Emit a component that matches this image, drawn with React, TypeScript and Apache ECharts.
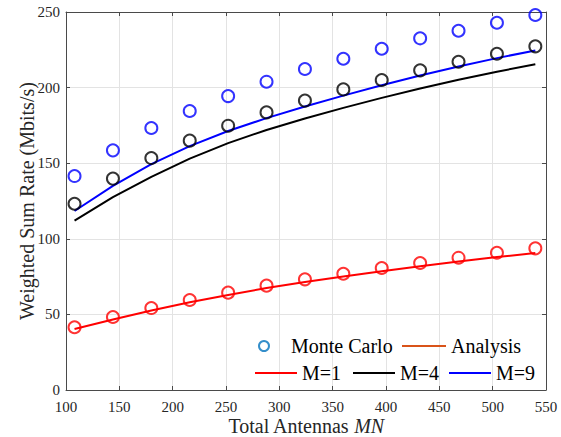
import React, { useEffect, useRef } from "react";
import * as echarts from "echarts";

// Total antennas MN at which both the simulation and the analysis are evaluated
const antennas = [108, 144, 180, 216, 252, 288, 324, 360, 396, 432, 468, 504, 540];

// Monte Carlo results (Mbits/s)
const monteCarloM1 = [41.5, 48.3, 54.2, 59.5, 64.4, 69.0, 73.2, 76.9, 80.7, 84.0, 87.5, 90.8, 93.7];
const monteCarloM4 = [123.2, 139.8, 153.4, 164.9, 174.8, 183.6, 191.4, 198.8, 205.0, 211.4, 217.1, 222.4, 227.3];
const monteCarloM9 = [141.5, 158.5, 173.3, 184.5, 194.4, 203.9, 212.3, 219.1, 225.7, 232.6, 237.6, 242.9, 248.0];

// Analytical results (Mbits/s)
const analysisM1 = [40.3, 46.6, 52.6, 58.0, 62.9, 67.4, 71.4, 75.1, 78.6, 81.9, 85.0, 87.9, 90.6];
const analysisM4 = [112.0, 127.5, 141.0, 153.0, 163.3, 172.0, 179.6, 186.6, 193.2, 199.4, 205.2, 210.5, 215.4];
const analysisM9 = [118.4, 135.0, 149.4, 161.3, 171.3, 179.8, 187.5, 194.7, 201.5, 208.0, 214.0, 219.5, 224.6];

const xTicks = { min: 100, max: 550, interval: 50 };
const yTicks = { min: 0, max: 250, interval: 50 };

const FONT = "Liberation Serif";
const AXIS_COLOR = "#4a4a4a";
const TEXT_COLOR = "#262626";

const pair = (ys: number[]) => antennas.map((x, i) => [x, ys[i]]);

const curves = [
  { name: "M=1", color: "#ff0000", mc: monteCarloM1, an: analysisM1 },
  { name: "M=4", color: "#000000", mc: monteCarloM4, an: analysisM4 },
  { name: "M=9", color: "#0000ff", mc: monteCarloM9, an: analysisM9 },
];

export default function App() {
  const ref = useRef<HTMLDivElement>(null);

  useEffect(() => {
    if (!ref.current) return;
    const chart = echarts.init(ref.current, null, { renderer: "svg" });

    const boxAxis = {
      show: true,
      axisLine: { show: true, onZero: false, lineStyle: { color: AXIS_COLOR, width: 1 } },
      axisTick: { show: true, inside: true, length: 4, lineStyle: { color: AXIS_COLOR } },
      axisLabel: { show: false },
      splitLine: { show: false },
    };

    const legendText = { fontFamily: FONT, fontSize: 20, color: "#000" };
    const legendBase = {
      orient: "horizontal" as const,
      padding: 0,
      itemGap: 0,
      selectedMode: false,
      textStyle: legendText,
    };

    const option: any = {
      animation: false,
      backgroundColor: "#ffffff",
      textStyle: { fontFamily: FONT },
      grid: {
        left: 66,
        right: 15,
        top: 12,
        bottom: 47,
        containLabel: false,
        outerBoundsMode: "none",
      },
      xAxis: [
        {
          type: "value",
          min: xTicks.min,
          max: xTicks.max,
          interval: xTicks.interval,
          position: "bottom",
          axisLine: { show: true, onZero: false, lineStyle: { color: AXIS_COLOR, width: 1 } },
          axisTick: { show: true, inside: true, length: 4, lineStyle: { color: AXIS_COLOR } },
          axisLabel: { fontFamily: FONT, fontSize: 15, color: TEXT_COLOR, margin: 9 },
          splitLine: { show: true, lineStyle: { color: "#e3e3e3", width: 1 } },
          name: "Total Antennas {i|MN}",
          nameLocation: "middle",
          nameGap: 26,
          nameMoveOverlap: false,
          nameTextStyle: {
            fontFamily: FONT,
            fontSize: 20,
            color: TEXT_COLOR,
            rich: { i: { fontFamily: FONT, fontSize: 20, fontStyle: "italic", color: TEXT_COLOR } },
          },
        },
        {
          type: "value",
          min: xTicks.min,
          max: xTicks.max,
          interval: xTicks.interval,
          position: "top",
          ...boxAxis,
        },
      ],
      yAxis: [
        {
          type: "value",
          min: yTicks.min,
          max: yTicks.max,
          interval: yTicks.interval,
          position: "left",
          axisLine: { show: true, onZero: false, lineStyle: { color: AXIS_COLOR, width: 1 } },
          axisTick: { show: true, inside: true, length: 4, lineStyle: { color: AXIS_COLOR } },
          axisLabel: { fontFamily: FONT, fontSize: 15, color: TEXT_COLOR, margin: 6 },
          splitLine: { show: true, lineStyle: { color: "#e3e3e3", width: 1 } },
          name: "Weighted Sum Rate (Mbits/s)",
          nameLocation: "middle",
          nameGap: 29,
          nameMoveOverlap: false,
          nameRotate: 90,
          nameTextStyle: { fontFamily: FONT, fontSize: 20, color: TEXT_COLOR },
        },
        {
          type: "value",
          min: yTicks.min,
          max: yTicks.max,
          interval: yTicks.interval,
          position: "right",
          ...boxAxis,
        },
      ],
      legend: [
        {
          ...legendBase,
          left: 258,
          top: 336,
          itemWidth: 44,
          itemHeight: 10,
          data: [
            {
              name: "Monte Carlo",
              icon: "circle",
              itemStyle: { color: "#ffffff", borderColor: "#0072bd", borderWidth: 2 },
            },
          ],
        },
        {
          ...legendBase,
          left: 402,
          top: 336,
          itemWidth: 44,
          itemHeight: 2,
          data: [{ name: "Analysis", icon: "rect" }],
        },
        ...curves.map((c, i) => ({
          ...legendBase,
          left: [255, 353, 449][i],
          top: 363,
          itemWidth: 42,
          itemHeight: 2,
          data: [{ name: c.name, icon: "rect" }],
        })),
      ],
      series: [
        // legend-only entries describing the marker and line styles
        {
          name: "Monte Carlo",
          type: "scatter",
          data: [],
          symbol: "circle",
          itemStyle: { color: "#ffffff", borderColor: "#0072bd", borderWidth: 2 },
        },
        {
          name: "Analysis",
          type: "line",
          data: [],
          showSymbol: false,
          itemStyle: { color: "#d95319" },
          lineStyle: { color: "#d95319", width: 2 },
        },
        ...curves.map((c) => ({
          name: c.name,
          type: "line",
          data: pair(c.an),
          showSymbol: false,
          symbol: "none",
          smooth: false,
          itemStyle: { color: c.color },
          lineStyle: { color: c.color, width: 2 },
          z: 2,
        })),
        ...curves.map((c) => ({
          name: `Monte Carlo ${c.name}`,
          type: "scatter",
          data: pair(c.mc),
          symbol: "circle",
          symbolSize: 12,
          itemStyle: { color: "rgba(0,0,0,0)", borderColor: c.color, borderWidth: 2 },
          z: 3,
        })),
      ],
    };

    chart.setOption(option);
    return () => chart.dispose();
  }, []);

  return (
    <div
      ref={ref}
      style={{ position: "fixed", left: 0, top: 0, width: 561, height: 437, background: "#fff" }}
    />
  );
}
